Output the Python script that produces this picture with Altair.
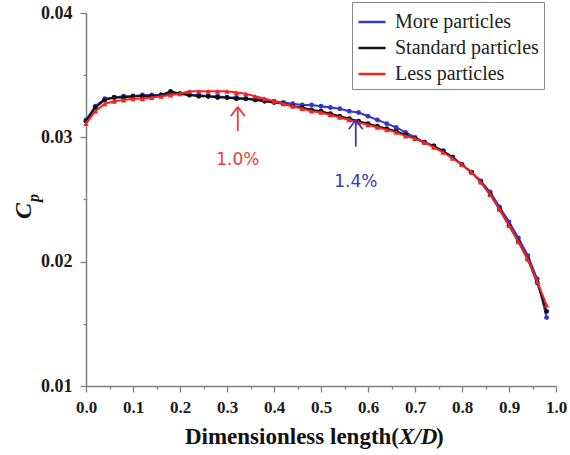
import altair as alt
import pandas as pd

# Dimensionless position along the wall
x_pos = [0.00, 0.02, 0.04, 0.06, 0.08, 0.10, 0.12, 0.14, 0.16, 0.18,
         0.20, 0.22, 0.24, 0.26, 0.28, 0.30, 0.32, 0.34, 0.36, 0.38,
         0.40, 0.42, 0.44, 0.46, 0.48, 0.50, 0.52, 0.54, 0.56, 0.58,
         0.60, 0.62, 0.64, 0.66, 0.68, 0.70, 0.72, 0.74, 0.76, 0.78,
         0.80, 0.82, 0.84, 0.86, 0.88, 0.90, 0.92, 0.94, 0.96, 0.98]

cp_more = [0.0314, 0.0325, 0.0331, 0.0332, 0.0333, 0.0333, 0.0334, 0.0334, 0.0334, 0.0335,
           0.0335, 0.0334, 0.0334, 0.0333, 0.0333, 0.0332, 0.0332, 0.0331, 0.0331, 0.0330,
           0.0329, 0.0328, 0.0327, 0.0326, 0.0326, 0.0325, 0.0324, 0.0323, 0.0321, 0.0320,
           0.0317, 0.0314, 0.0311, 0.0308, 0.0304, 0.0300, 0.0296, 0.0293, 0.0289, 0.0284,
           0.0278, 0.0272, 0.0265, 0.0256, 0.0244, 0.0232, 0.0219, 0.0205, 0.0186, 0.0155]

cp_standard = [0.0313, 0.0324, 0.0330, 0.0332, 0.0332, 0.0333, 0.0333, 0.0333, 0.0334, 0.0337,
               0.0335, 0.0334, 0.0333, 0.0333, 0.0332, 0.0332, 0.0331, 0.0331, 0.0330, 0.0329,
               0.0328, 0.0327, 0.0325, 0.0324, 0.0322, 0.0321, 0.0319, 0.0317, 0.0315, 0.0313,
               0.0311, 0.0309, 0.0307, 0.0305, 0.0302, 0.0299, 0.0296, 0.0293, 0.0289, 0.0284,
               0.0278, 0.0272, 0.0264, 0.0254, 0.0242, 0.0229, 0.0216, 0.0202, 0.0183, 0.0160]

cp_less = [0.0311, 0.0321, 0.0327, 0.0329, 0.0330, 0.0331, 0.0331, 0.0332, 0.0333, 0.0334,
           0.0335, 0.0337, 0.0337, 0.0337, 0.0337, 0.0337, 0.0336, 0.0335, 0.0333, 0.0331,
           0.0329, 0.0327, 0.0325, 0.0323, 0.0321, 0.0320, 0.0318, 0.0316, 0.0314, 0.0312,
           0.0310, 0.0308, 0.0306, 0.0304, 0.0301, 0.0299, 0.0296, 0.0292, 0.0288, 0.0283,
           0.0278, 0.0272, 0.0264, 0.0254, 0.0242, 0.0229, 0.0216, 0.0202, 0.0184, 0.0165]

series_names = ["More particles", "Standard particles", "Less particles"]
series_colors = ["#3438c4", "#111111", "#f42424"]
series_shapes = ["circle", "circle", "triangle-up"]

# Percentage call-outs: label, x, arrow tip, arrow tail, label height, colour
note_text = ["1.0%", "1.4%"]
note_x = [0.323, 0.574]
note_tip = [0.03245, 0.0314]
note_tail = [0.0305, 0.02925]
note_label_y = [0.0282, 0.0264]
note_colors = ["#f03a3a", "#3a3ab4"]

x_ticks = [0.00, 0.05, 0.10, 0.15, 0.20, 0.25, 0.30, 0.35, 0.40, 0.45, 0.50,
           0.55, 0.60, 0.65, 0.70, 0.75, 0.80, 0.85, 0.90, 0.95, 1.00]
y_ticks = [0.010, 0.015, 0.020, 0.025, 0.030, 0.035, 0.040]

SERIF = "Liberation Serif"

rows = []
for name, vals in zip(series_names, [cp_more, cp_standard, cp_less]):
    for xv, yv in zip(x_pos, vals):
        rows.append({"x": xv, "cp": yv, "series": name})
df = pd.DataFrame(rows)

x_scale = alt.Scale(domain=[0, 1.0], nice=False, zero=False)
y_scale = alt.Scale(domain=[0.01, 0.04], nice=False, zero=False)
color_scale = alt.Scale(domain=series_names, range=series_colors)

x_axis = alt.Axis(
    values=x_ticks, title=None, grid=False,
    labelExpr="round(datum.value*100) % 10 === 0 ? format(datum.value, '.1f') : ''",
    tickSize={"condition": {"test": "round(datum.value*100) % 10 === 0", "value": 6}, "value": 3},
    labelPadding=7, labelFont=SERIF, labelFontSize=17, labelFontWeight="bold",
    labelColor="#1a1a1a", domainColor="#808080", domainWidth=1.5,
    tickColor="#808080", tickWidth=1.3, labelFlush=False,
)
y_axis = alt.Axis(
    values=y_ticks, title=None, grid=False,
    labelExpr="round(datum.value*1000) % 10 === 0 ? format(datum.value, '.2f') : ''",
    tickSize={"condition": {"test": "round(datum.value*1000) % 10 === 0", "value": 6}, "value": 3},
    labelPadding=8, labelFont=SERIF, labelFontSize=18, labelFontWeight="bold",
    labelColor="#1a1a1a", domainColor="#808080", domainWidth=1.5,
    tickColor="#808080", tickWidth=1.3, labelFlush=False,
)


def xq(field):
    return alt.X(f"{field}:Q", scale=x_scale, axis=x_axis)


def yq(field):
    return alt.Y(f"{field}:Q", scale=y_scale, axis=y_axis)


layers = []
for name, color, shape in zip(series_names, series_colors, series_shapes):
    sub = df[df["series"] == name]
    line = alt.Chart(sub).mark_line(strokeWidth=2).encode(
        x=xq("x"), y=yq("cp"),
        color=alt.Color("series:N", scale=color_scale, sort=series_names,
                        legend=alt.Legend(title=None)),
    )
    pts = alt.Chart(sub).mark_point(shape=shape, filled=True, size=24 if shape == "circle" else 30,
                                    opacity=1, color=color).encode(x=xq("x"), y=yq("cp"))
    layers += [line, pts]

notes = pd.DataFrame({
    "text": note_text, "x": note_x, "tip": note_tip, "tail": note_tail,
    "ly": note_label_y, "color": note_colors,
})
notes["xl"] = notes["x"] - 0.015
notes["xr"] = notes["x"] + 0.015
notes["head"] = notes["tip"] - 0.00075

shaft = alt.Chart(notes).mark_rule(strokeWidth=1.8).encode(
    x=xq("x"), y=yq("tip"), y2="tail:Q",
    color=alt.Color("color:N", scale=None))
head_l = alt.Chart(notes).mark_rule(strokeWidth=1.8).encode(
    x=xq("x"), x2="xl:Q", y=yq("tip"), y2="head:Q",
    color=alt.Color("color:N", scale=None))
head_r = alt.Chart(notes).mark_rule(strokeWidth=1.8).encode(
    x=xq("x"), x2="xr:Q", y=yq("tip"), y2="head:Q",
    color=alt.Color("color:N", scale=None))
note_lbl = alt.Chart(notes).mark_text(font="DejaVu Sans", fontSize=17, align="center",
                                      baseline="middle").encode(
    x=xq("x"), y=yq("ly"), text="text:N",
    color=alt.Color("color:N", scale=None))

# Axis titles drawn as text pieces so the italic parts and the subscript can be styled
title_df = pd.DataFrame({"a": [0]})
TS = 23
x_title_a = alt.Chart(title_df).mark_text(
    text="Dimensionless length(", font=SERIF, fontSize=TS, fontWeight="bold",
    align="right", baseline="middle", color="#111").encode(x=alt.value(313), y=alt.value(424))
x_title_b = alt.Chart(title_df).mark_text(
    text="X/D", font=SERIF, fontSize=TS, fontWeight="bold", fontStyle="italic",
    align="left", baseline="middle", color="#111").encode(x=alt.value(313), y=alt.value(424))
x_title_c = alt.Chart(title_df).mark_text(
    text=")", font=SERIF, fontSize=TS, fontWeight="bold",
    align="left", baseline="middle", color="#111").encode(x=alt.value(350), y=alt.value(424))
y_title_c = alt.Chart(title_df).mark_text(
    text="C", font=SERIF, fontSize=24, fontWeight="bold", fontStyle="italic", angle=270,
    align="center", baseline="middle", color="#111").encode(x=alt.value(-62), y=alt.value(198))
y_title_p = alt.Chart(title_df).mark_text(
    text="p", font=SERIF, fontSize=16, fontWeight="bold", fontStyle="italic", angle=270,
    align="center", baseline="middle", color="#111").encode(x=alt.value(-52), y=alt.value(185))

chart = alt.layer(
    *layers, shaft, head_l, head_r, note_lbl,
    x_title_a, x_title_b, x_title_c, y_title_c, y_title_p,
).properties(
    width=470, height=373,
    autosize=alt.AutoSizeParams(type="none"),
    padding={"left": 86, "top": 13, "right": 14, "bottom": 69},
    background="white",
).configure_view(stroke=None).configure_legend(
    orient="none", legendX=266, legendY=-11,
    strokeColor="#888", fillColor="white", padding=5,
    symbolType="stroke", symbolStrokeWidth=2.5, symbolSize=729,
    labelFont=SERIF, labelFontSize=20, labelColor="#222",
    rowPadding=1, labelOffset=8,
)

chart.save("out.html", embed_options={"renderer": "svg", "actions": False})
